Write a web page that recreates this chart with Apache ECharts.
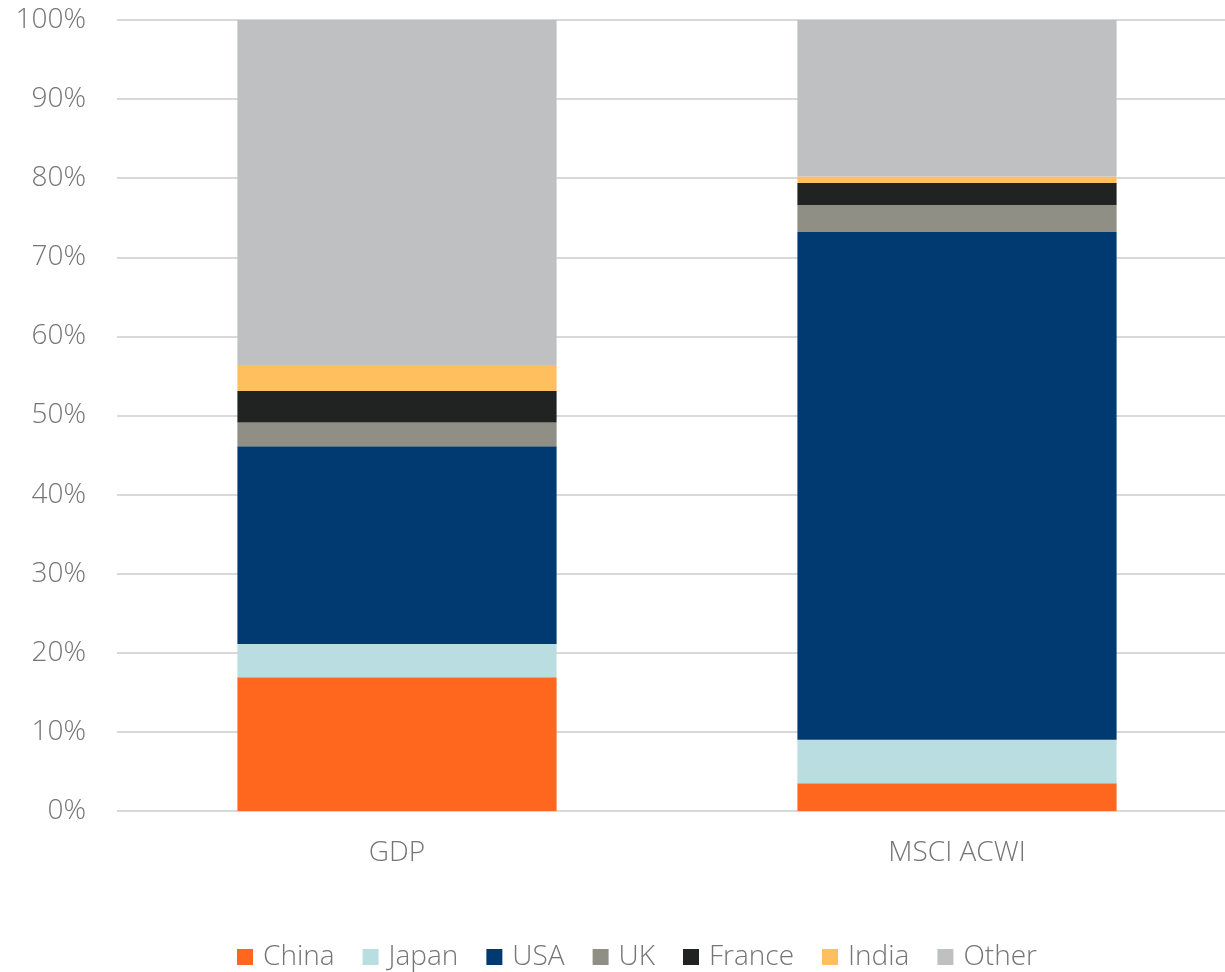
<!DOCTYPE html>
<html>
<head>
<meta charset="utf-8">
<script src="https://cdn.jsdelivr.net/npm/echarts@6/dist/echarts.min.js"></script>
<style>html,body{margin:0;padding:0;background:#fff}#c{width:1225px;height:972px}</style>
</head>
<body>
<div id="c"></div>
<script>
const categories = ['GDP', 'MSCI ACWI'];
const seriesNames = ['China', 'Japan', 'USA', 'UK', 'France', 'India', 'Other'];
const china  = [16.9, 3.5];
const japan  = [4.2, 5.5];
const usa    = [25.0, 64.2];
const uk     = [3.0, 3.4];
const france = [4.0, 2.8];
const india  = [3.3, 0.8];
const other  = [43.6, 19.8];
const colors = ['#FF671F', '#B9DDE1', '#003A70', '#8F8F86', '#212322', '#FFBF5F', '#BFC0C2'];
const values = [china, japan, usa, uk, france, india, other];

const font = 'Open Sans';
const chart = echarts.init(document.getElementById('c'), null, {renderer: 'canvas'});
chart.setOption({
  animation: false,
  backgroundColor: '#fff',
  grid: {left: 117, top: 20, width: 1120, height: 791, containLabel: false, outerBoundsMode: 'none'},
  legend: {
    top: 938, left: 232,
    itemWidth: 16, itemHeight: 16, itemGap: 28,
    icon: 'rect',
    textStyle: {color: '#757575', fontSize: 28, fontFamily: font, fontWeight: 300, padding: [0, 0, 0, 5]},
    data: seriesNames
  },
  xAxis: {
    type: 'category', data: categories,
    axisLine: {show: false}, axisTick: {show: false},
    axisLabel: {color: '#757575', fontSize: 28, fontFamily: font, fontWeight: 300, margin: 28}
  },
  yAxis: {
    type: 'value', min: 0, max: 100, interval: 10,
    axisLabel: {formatter: '{value}%', color: '#757575', fontSize: 28, fontFamily: font, fontWeight: 300, margin: 31},
    splitLine: {lineStyle: {color: '#D9D9D9', width: 2}},
    axisLine: {show: false}, axisTick: {show: false}
  },
  series: seriesNames.map((n, i) => ({
    name: n, type: 'bar', stack: 'total', barWidth: '57%',
    data: values[i],
    itemStyle: {color: colors[i]}
  }))
});
</script>
</body>
</html>
